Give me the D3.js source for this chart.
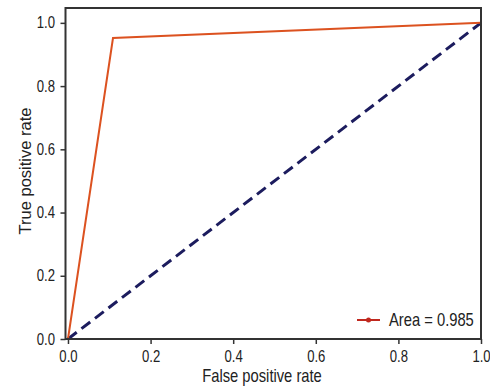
<!DOCTYPE html>
<html>
<head>
<meta charset="utf-8">
<script src="https://cdn.jsdelivr.net/npm/d3@7"></script>
<style>
  body { margin: 0; background: #fff; }
  svg { display: block; }
</style>
</head>
<body>
<svg id="chart" width="490" height="387"></svg>
<script>
(function () {

    // roc curve
    var fprValues = [0.0, 0.109, 1.0];
    var tprValues = [0.0, 0.952, 1.0];
    var chanceX = [0.0, 1.0];
    var chanceY = [0.0, 1.0];
    var tickValues = [0.0, 0.2, 0.4, 0.6, 0.8, 1.0];
    var legendLabel = "Area = 0.985";

    var width = 490;
    var height = 387;
    var squeeze = 0.82; // the picture is narrowed sideways
    var font = "'Liberation Sans', Arial, sans-serif";

    var svg = d3.select("#chart")
        .attr("width", width)
        .attr("height", height);

    var xScale = d3.scaleLinear()
        .domain([-0.006, 1.0])
        .range([65.5, 481]);
    var yScale = d3.scaleLinear()
        .domain([0, 1.047])
        .range([339, 8]);

    var xAxis = d3.axisBottom(xScale)
        .tickValues(tickValues)
        .tickFormat(d3.format(".1f"))
        .tickSize(5)
        .tickPadding(7);
    var yAxis = d3.axisLeft(yScale)
        .tickValues(tickValues)
        .tickFormat(d3.format(".1f"))
        .tickSize(5)
        .tickPadding(5.5);

    var gx = svg.append("g")
        .attr("transform", "translate(0," + yScale(0) + ")")
        .call(xAxis);
    var gy = svg.append("g")
        .attr("transform", "translate(" + xScale.range()[0] + ",0)")
        .call(yAxis);

    [gx, gy].forEach(function (g) {
        g.select(".domain").remove();
        g.selectAll(".tick line")
            .attr("stroke", "#333")
            .attr("stroke-width", 1.5);
        g.selectAll(".tick text")
            .attr("fill", "#222")
            .attr("transform", "scale(" + squeeze + ",1)")
            .style("font-family", font)
            .style("font-size", "16px");
    });
    gy.selectAll(".tick text").attr("x", -10.5 / squeeze);

    // diagonal reference
    var line = d3.line()
        .x(d => xScale(d[0]))
        .y(d => yScale(d[1]));

    svg.append("path")
        .attr("d", line(d3.zip(chanceX, chanceY)))
        .attr("fill", "none")
        .attr("stroke", "#1c1c5e")
        .attr("stroke-width", 3)
        .attr("stroke-dasharray", "11,6");

    svg.append("path")
        .attr("d", line(d3.zip(fprValues, tprValues)))
        .attr("fill", "none")
        .attr("stroke", "#dc5220")
        .attr("stroke-width", 2)
        .attr("stroke-linejoin", "miter");

    // frame
    svg.append("rect")
        .attr("x", xScale.range()[0])
        .attr("y", yScale.range()[1])
        .attr("width", xScale.range()[1] - xScale.range()[0])
        .attr("height", yScale.range()[0] - yScale.range()[1])
        .attr("fill", "none")
        .attr("stroke", "#333")
        .attr("stroke-width", 2);

    function flatText(x, y, size, anchor, label) {
        return svg.append("text")
            .attr("transform", "translate(" + x + "," + y + ") scale(" + squeeze + ",1)")
            .attr("text-anchor", anchor)
            .attr("fill", "#222")
            .style("font-family", font)
            .style("font-size", size + "px")
            .text(label);
    }

    // axis titles
    flatText(262, 382, 18, "middle", "False positive rate");

    svg.append("text")
        .attr("transform", "translate(31,171) rotate(-90)")
        .attr("text-anchor", "middle")
        .attr("fill", "#222")
        .style("font-family", font)
        .style("font-size", "16.5px")
        .text("True positive rate");

    // legend
    var legend = svg.append("g")
        .attr("transform", "translate(357,320)");
    legend.append("line")
        .attr("x1", 0)
        .attr("x2", 23)
        .attr("stroke", "#c0281e")
        .attr("stroke-width", 2);
    legend.append("circle")
        .attr("cx", 11.5)
        .attr("r", 2.5)
        .attr("fill", "#c0281e");
    flatText(389, 326, 18, "start", legendLabel);

})();
</script>
</body>
</html>
